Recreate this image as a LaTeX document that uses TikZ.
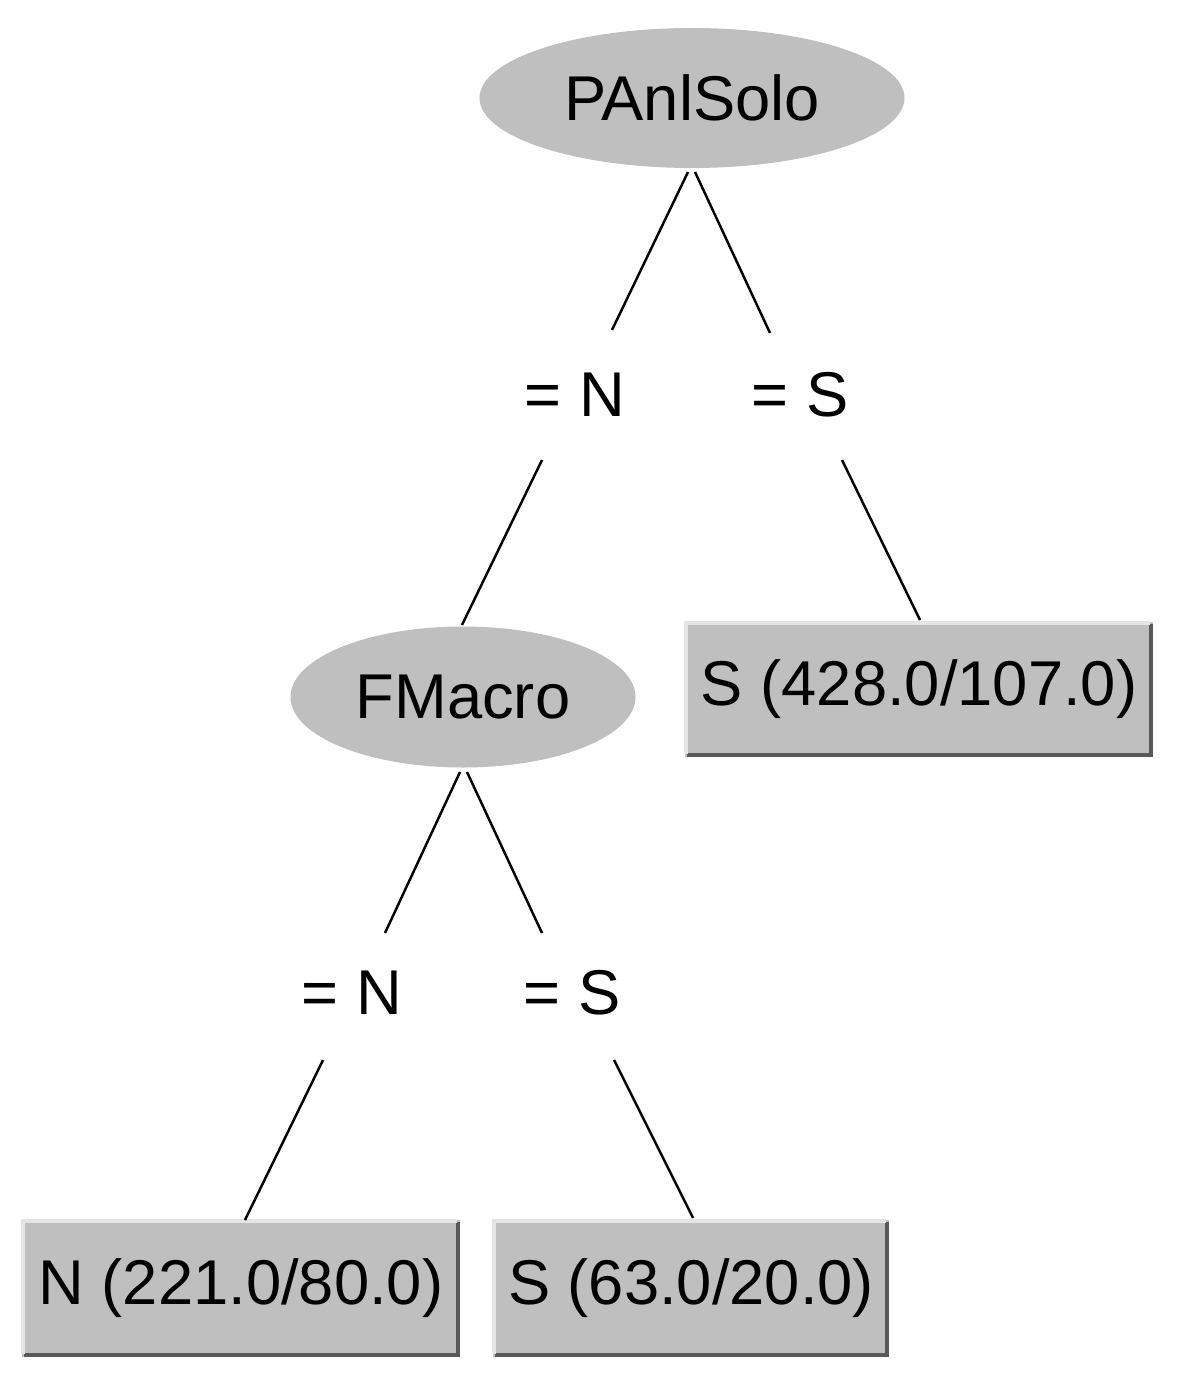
\documentclass[tikz,border=0pt]{standalone}
\usepackage{fontspec}
\setmainfont{Liberation Sans}
\usetikzlibrary{shapes.geometric}
\begin{document}
\begin{tikzpicture}[x=0.01cm,y=-0.01cm,
  split/.style={ellipse,fill=gray!50,draw=none,font=\fontsize{18}{20}\selectfont},
  leaf/.style={rectangle,fill=gray!50,draw=none,font=\fontsize{18}{20}\selectfont},
  lbl/.style={font=\fontsize{18}{20}\selectfont},
  edge/.style={line width=0.7pt}]
\useasboundingbox (0,0) rectangle (1184,1385);
\node[split,minimum width=425*0.01cm,minimum height=140*0.01cm] (root) at (692,98) {PAnlSolo};
\node[split,minimum width=345*0.01cm,minimum height=141*0.01cm] (fm) at (463,697) {FMacro};
% leaves with shadow edges
\foreach \n/\xa/\ya/\xb/\yb/\t in {l1/685/622/1153/757/{S (428.0/107.0)},l2/22/1220/460/1357/{N (221.0/80.0)},l3/493/1220/889/1357/{S (63.0/20.0)}}{
  \fill[gray!50] (\xa,\ya) rectangle (\xb,\yb);
  \draw[gray!70!black,line width=1.2pt] (\xa+2,\yb-2) -- (\xb-2,\yb-2) -- (\xb-2,\ya+2);
  \draw[gray!20,line width=1pt] (\xa+1,\yb-3) -- (\xa+1,\ya+1) -- (\xb-3,\ya+1);
  \node[font=\fontsize{18}{20}\selectfont] (\n) at ({(\xa+\xb)/2},{(\ya+\yb)/2}) {\t};
}
\node[lbl] (a) at (575,395) {= N};
\node[lbl] (b) at (800,395) {= S};
\node[lbl] (c) at (352,993) {= N};
\node[lbl] (d) at (572,993) {= S};
\coordinate (r1) at (688,172); \coordinate (r2) at (695,172);
\coordinate (a1) at (612,330); \coordinate (b1) at (770,333);
\coordinate (a2) at (542,460); \coordinate (fmt) at (462,625);
\coordinate (b2) at (842,460); \coordinate (l1t) at (920,620);
\coordinate (f1) at (460,772); \coordinate (f2) at (467,772);
\coordinate (c1) at (385,933); \coordinate (d1) at (542,933);
\coordinate (c2) at (323,1060); \coordinate (l2t) at (245,1220);
\coordinate (d2) at (614,1060); \coordinate (l3t) at (693,1218);
\draw[edge] (r1) -- (a1); \draw[edge] (r2) -- (b1);
\draw[edge] (a2) -- (fmt); \draw[edge] (b2) -- (l1t);
\draw[edge] (f1) -- (c1); \draw[edge] (f2) -- (d1);
\draw[edge] (c2) -- (l2t); \draw[edge] (d2) -- (l3t);
\end{tikzpicture}
\end{document}
